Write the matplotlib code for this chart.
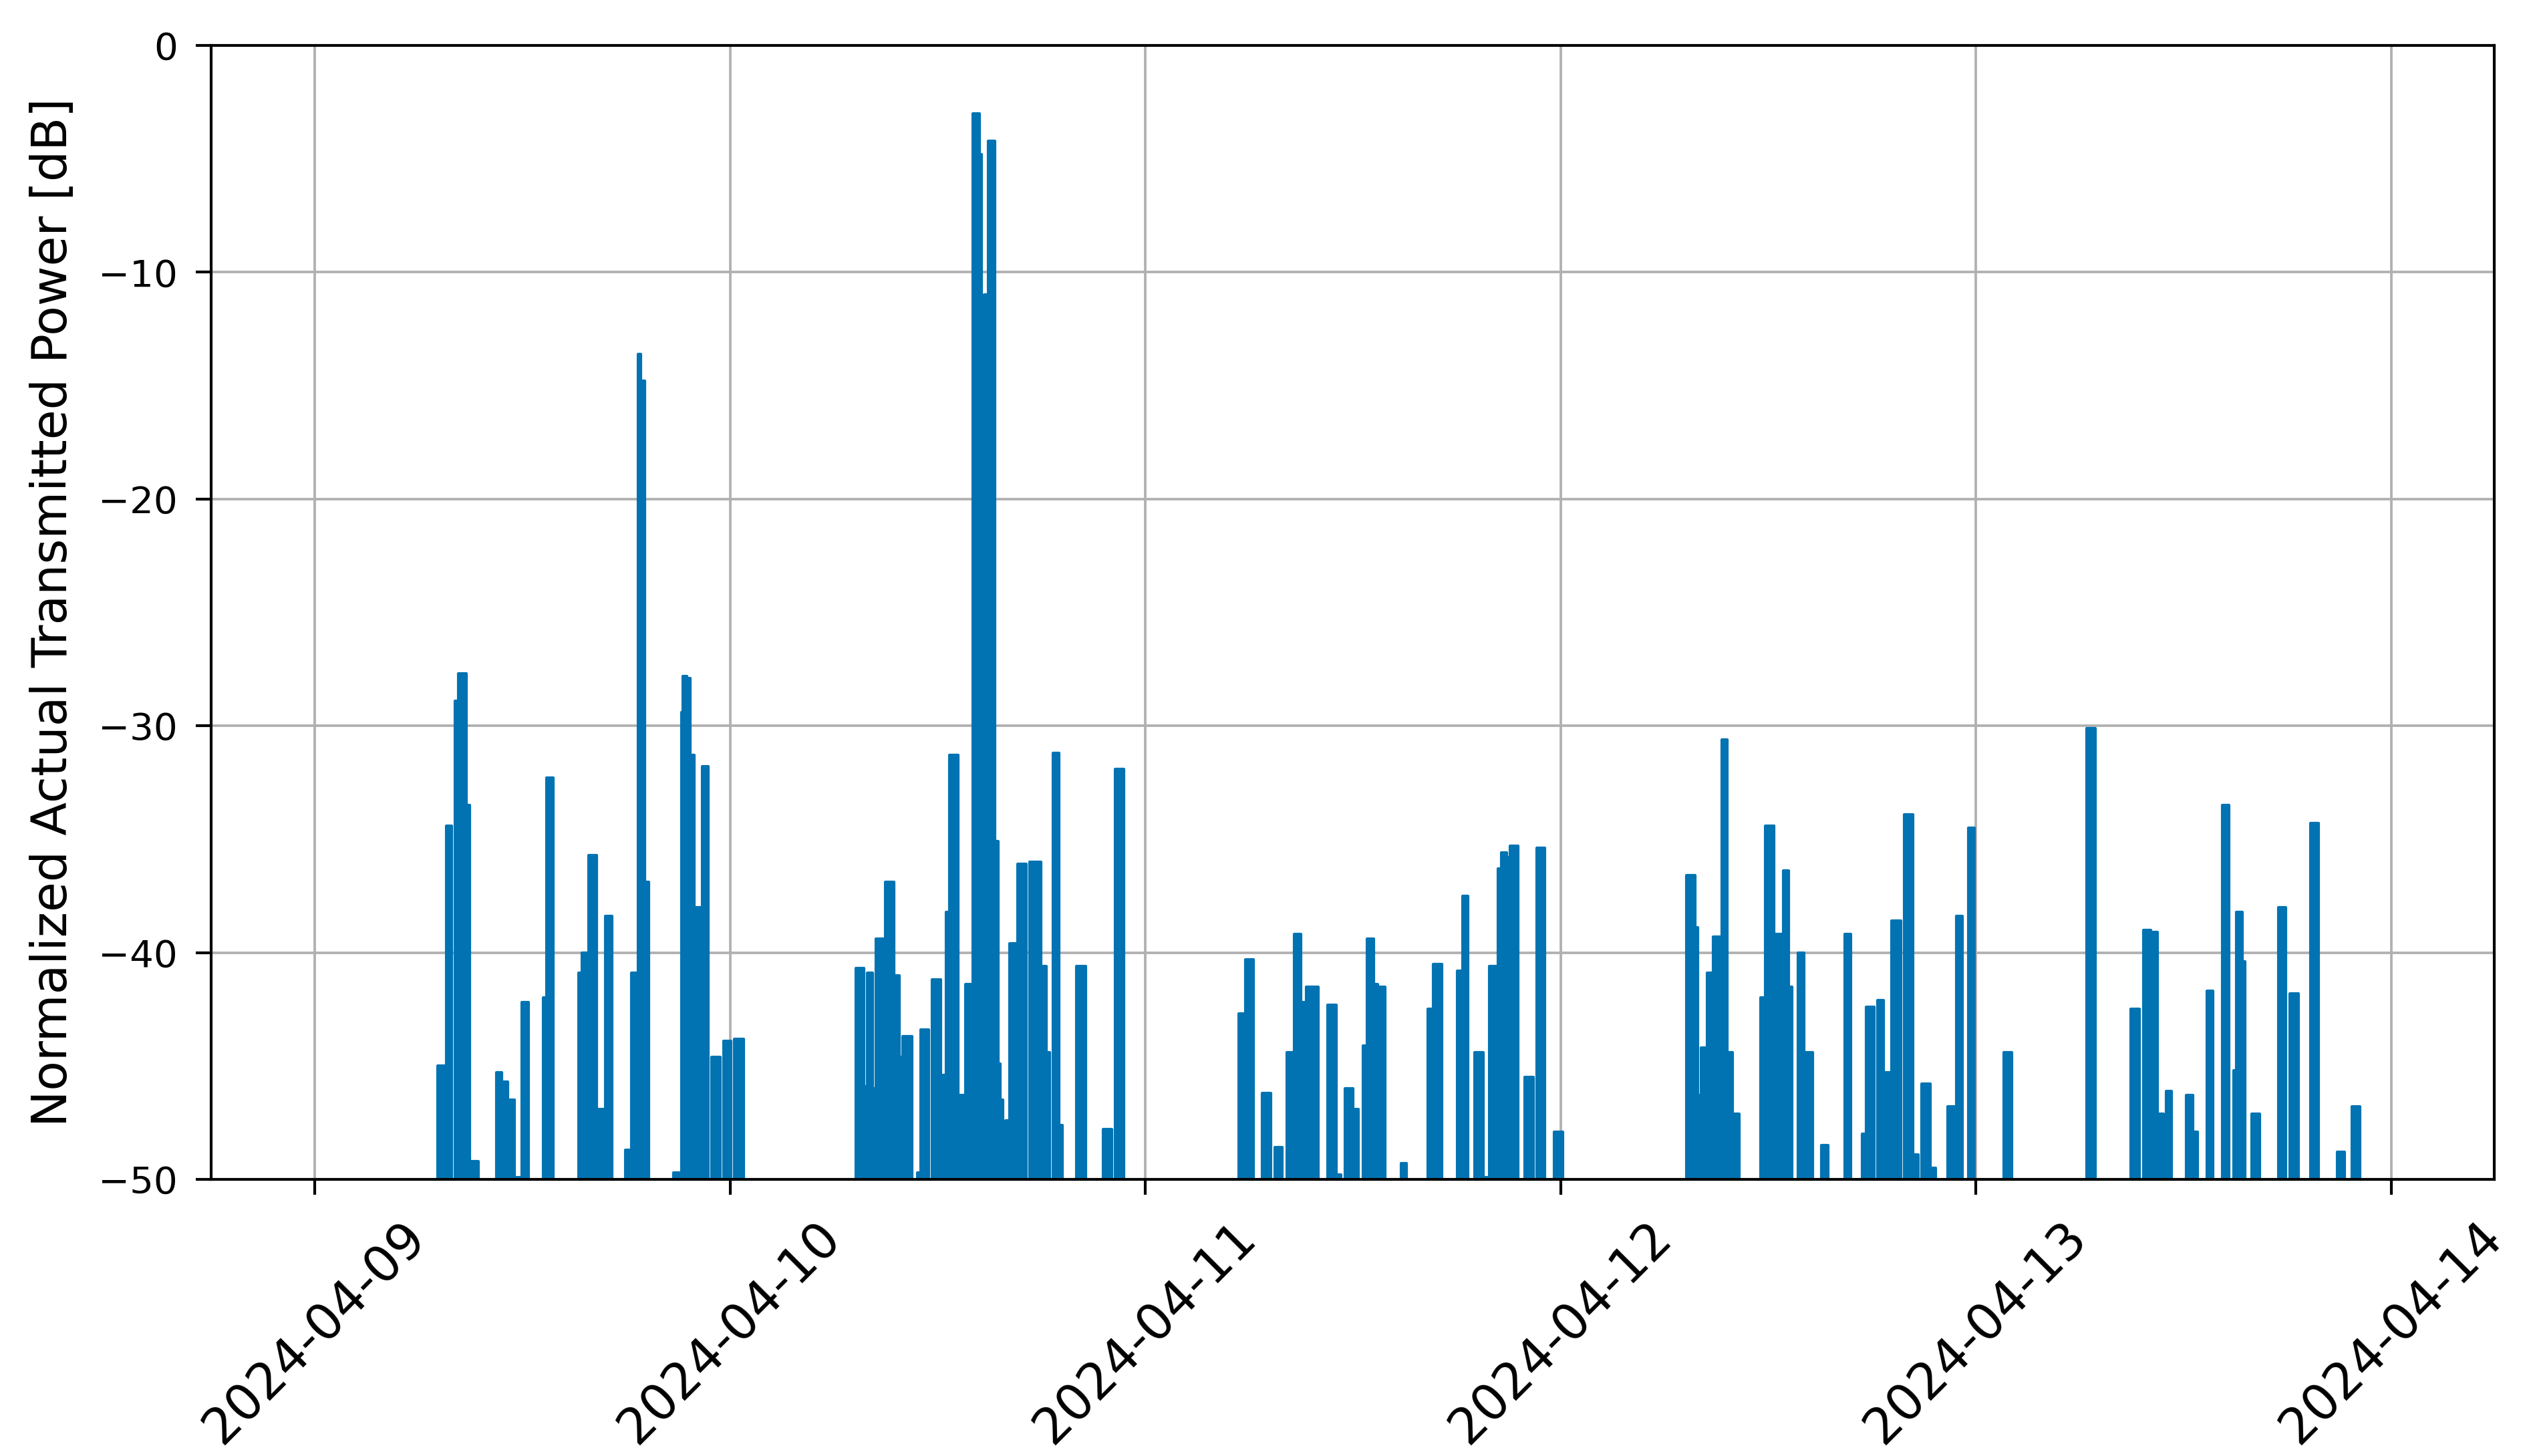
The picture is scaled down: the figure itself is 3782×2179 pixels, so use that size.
import numpy as np
import pandas as pd
import matplotlib
matplotlib.use("Agg")
import matplotlib.pyplot as plt
import matplotlib.dates as mdates

# Value used when the signal is below the plotted range (noise floor)
F = -70.0

# Hours since 2024-04-09 00:00 at which the level changes, and the level (dB)
day1_hours = [0.0, 7.08, 7.59, 7.92, 8.11, 8.30, 8.75, 8.94, 9.46, 10.49, 10.81, 11.14, 11.52, 11.84,
              11.97, 12.36, 13.19, 13.39, 13.77, 15.25, 15.44, 15.83, 16.28, 16.73, 16.80, 17.18,
              17.95, 18.28, 18.66, 18.85, 19.05, 19.31, 20.72, 21.17, 21.25, 21.50, 21.60, 21.69,
              21.92, 22.39, 22.72, 22.91, 23.42, 23.61, 24.06]
day1_levels = [F, -45.0, -34.4, F, -28.9, -27.7, -33.5, -49.2, F, -45.3, -45.7, -46.5, -49.9, F,
               -42.2, F, -42.0, -32.3, F, -40.9, -40.0, -35.7, -46.9, F, -38.4, F,
               -48.7, -40.9, -13.6, -14.8, -36.9, F, -49.7, -29.4, -27.8, -34.6, -27.9, -31.3,
               -38.0, -31.8, F, -44.6, F, -43.9, F]

day2_hours = [24.25, 24.78, 31.27, 31.72, 31.92, 32.24, 32.43, 32.95, 33.46, 33.78, 33.98, 34.50,
              34.81, 35.00, 35.46, 35.65, 36.16, 36.49, 36.68, 37.19, 37.58, 38.03, 38.40, 38.52,
              38.68, 38.93, 39.30, 39.50, 39.62, 39.77, 39.90, 40.15, 40.61, 41.12, 41.31, 41.96,
              42.28, 42.47, 42.67, 42.99, 43.18, 44.02, 44.54, 45.57, 46.06, 46.24, 46.76]
day2_levels = [-43.8, F, -40.7, -45.9, -40.9, -46.0, -39.4, -36.9, -41.0, -44.6, -43.7, F,
               -49.7, -43.4, F, -41.2, -45.4, -38.2, -31.3, -46.3, -41.4, -3.0, -4.8, -18.7,
               -11.0, -4.2, -35.1, -44.9, -46.5, F, -47.4, -39.6, -36.1, F, -36.0, -40.6,
               -44.4, F, -31.2, -47.6, F, -40.6, F, -47.8, F, -31.9, F]

day3_hours = [53.40, 53.76, 54.23, 54.76, 55.24, 55.48, 55.91, 56.16, 56.60, 56.99, 57.31, 57.97,
              58.51, 59.01, 59.31, 59.55, 60.00, 60.30, 60.56, 60.80, 61.20, 61.44, 61.84, 62.78,
              63.08, 64.33, 64.62, 65.13, 66.01, 66.33, 66.65, 67.02, 67.53, 67.88, 68.36, 68.57,
              68.89, 69.08, 69.54, 69.93, 70.42, 70.63, 71.09, 71.62, 72.13]
day3_levels = [-42.7, -40.3, F, -46.2, F, -48.6, F, -44.4, -39.2, -42.2, -41.5, F,
               -42.3, -49.8, F, -46.0, -46.9, F, -44.1, -39.4, -41.4, -41.5, F, -49.3,
               F, -42.5, -40.5, F, -40.8, -37.5, F, -44.4, -49.9, -40.6, -36.3, -35.6,
               -35.8, -35.3, F, -45.5, F, -35.4, F, -47.9, F]

day4_hours = [79.28, 79.77, 79.92, 80.11, 80.46, 80.80, 81.31, 81.61, 81.93, 82.30, 83.53, 83.82,
              84.34, 84.86, 85.18, 85.37, 85.70, 86.06, 86.55, 87.07, 87.44, 88.43, 88.77, 89.43,
              89.65, 90.12, 90.32, 90.64, 91.13, 91.64, 91.84, 92.34, 92.68, 92.87, 93.37, 93.68,
              94.37, 94.74, 94.88, 95.22, 95.55, 95.92, 97.62, 98.06]
day4_levels = [-36.6, -38.9, -46.3, -44.2, -40.9, -39.3, -30.6, -44.4, -47.1, F, -42.0, -34.4,
               -39.2, -36.4, -41.5, F, -40.0, -44.4, F, -48.5, F, -39.2, F, -48.0,
               -42.4, F, -42.1, -45.3, -38.6, F, -33.9, -48.9, F, -45.8, -49.5, F,
               -46.8, F, -38.4, F, -34.5, F, -44.4, F]

day5_hours = [102.41, 102.89, 104.95, 105.44, 105.66, 106.10, 106.47, 106.84, 106.99, 107.31,
              108.16, 108.53, 108.82, 109.34, 109.71, 110.22, 110.60, 110.88, 111.06, 111.40,
              111.55, 111.92, 112.40, 113.47, 113.91, 114.13, 114.62, 115.31, 115.80, 116.86,
              117.30, 117.71, 118.19, 119.95]
day5_levels = [-30.1, F, -42.5, F, -39.0, -39.1, -47.1, F, -46.1, F,
               -46.3, -47.9, F, -41.7, F, -33.5, F, -45.2, -38.2, -40.4,
               F, -47.1, F, -38.0, F, -41.8, F, -34.3, F, -48.8,
               F, -46.8, F, F]

hours = day1_hours + day2_hours + day3_hours + day4_hours + day5_hours
levels = day1_levels + day2_levels + day3_levels + day4_levels + day5_levels
assert len(hours) == len(levels)

times = pd.Timestamp("2024-04-09") + pd.to_timedelta(np.array(hours), unit="h")
levels = np.array(levels)

COLOR = "#0173b2"
W, H, DPI = 3782, 2179, 300
fig = plt.figure(figsize=(W / DPI, H / DPI), dpi=DPI)
ax = fig.add_axes([316 / W, 1 - 1765 / H, (3733 - 316) / W, (1765 - 68) / H])

# dense pulses appear as solid blocks in the original
ax.fill_between(times, levels, F, step="post", color=COLOR, lw=0, zorder=2)
ax.plot(times, levels, drawstyle="steps-post", color=COLOR, lw=1.0, zorder=2)
ax.set_ylim(-50, 0)
ax.xaxis.set_major_locator(mdates.DayLocator())
ax.xaxis.set_major_formatter(mdates.DateFormatter("%Y-%m-%d"))
ax.grid(True, color="#b0b0b0", lw=0.9)
for s in ax.spines.values():
    s.set_linewidth(1.0)
ax.tick_params(axis="both", length=5.6, width=1.0, pad=6.4)
ax.tick_params(axis="y", labelsize=13.5)
ax.tick_params(axis="x", labelsize=18, labelrotation=45)
ax.set_ylabel("Normalized Actual Transmitted Power [dB]", fontsize=17.5)
ax.yaxis.set_label_coords((115 - 316) / (3733 - 316), 0.5)

fig.savefig("out.png", dpi=DPI)
